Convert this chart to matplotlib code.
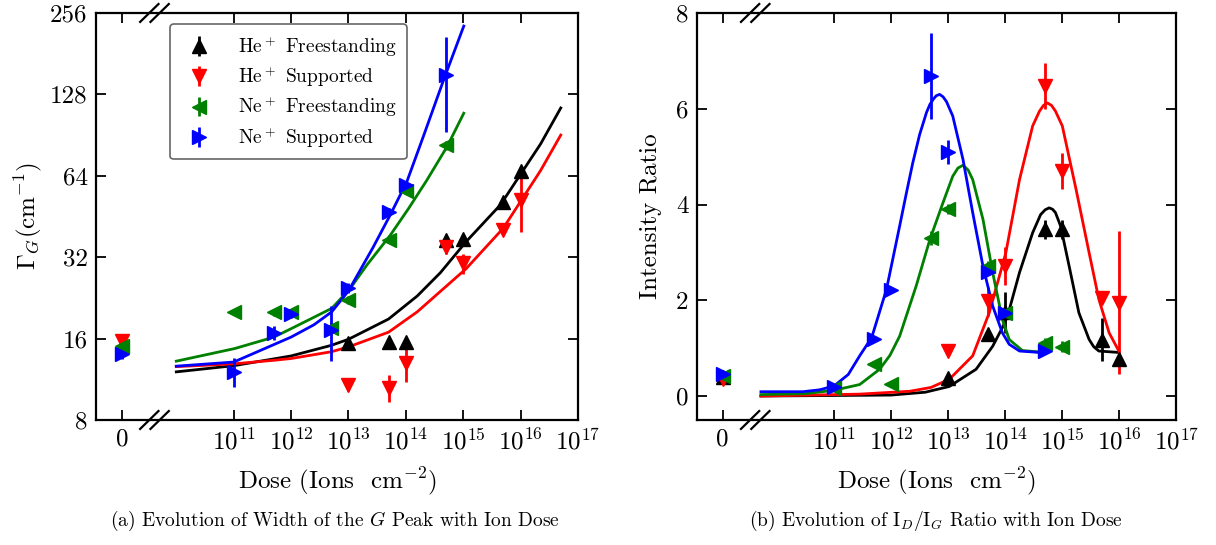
import matplotlib
matplotlib.use('Agg')
import matplotlib.pyplot as plt  # noqa: E402
import matplotlib.transforms as mtransforms  # noqa: E402
import numpy as np  # noqa: E402

plt.rcParams['font.family'] = 'cmr10'
plt.rcParams['mathtext.fontset'] = 'cm'
plt.rcParams['axes.unicode_minus'] = False
plt.rcParams['axes.formatter.use_mathtext'] = True

# ------------------------------------------------------------------
# Data (dose in ions/cm^2, 0 = pristine)
# ------------------------------------------------------------------
he_dose = [0, 1e13, 5e13, 1e14, 5e14, 1e15, 5e15, 1e16]
ne_dose = [0, 1e11, 5e11, 1e12, 5e12, 1e13, 5e13, 1e14, 5e14]
ne_dose_b = [0, 1e11, 5e11, 1e12, 5e12, 1e13, 5e13, 1e14, 5e14, 1e15]

# (a) G peak width (cm^-1)
w_he_free = [15.0, 15.4, 15.5, 15.5, 37.0, 37.5, 51.4, 66.4]
w_he_free_err = [0.5, 0.6, 0.6, 0.6, 1.5, 1.5, 1.5, 2.0]
w_he_sup = [15.7, 10.8, 10.5, 13.0, 35.0, 30.4, 40.4, 52.0]
w_he_sup_err = [0.5, 0.6, 1.2, 1.9, 2.0, 2.6, 1.5, 12.5]
w_ne_free = [15.0, 20.1, 20.0, 20.0, 17.5, 22.2, 37.0, 56.2, 83.0]
w_ne_free_err = [0.5, 0.5, 0.6, 0.6, 0.8, 0.8, 1.0, 1.5, 3.0]
w_ne_sup = [14.0, 12.05, 16.8, 19.7, 17.2, 24.6, 47.2, 59.2, 151.0]
w_ne_sup_err = [0.5, 1.5, 1.0, 0.6, 4.0, 1.0, 1.5, 1.5, 58.0]

# (a) fitted curves (log10 dose, width)
fa_he_free_x = [10.0, 11.0, 12.0, 12.7, 13.0, 13.7, 14.2, 14.6, 15.05, 15.65, 16.35, 16.7]
fa_he_free_y = [12.05, 12.7, 13.8, 15.1, 15.9, 18.9, 23.0, 28.0, 36.5, 50.0, 84.0, 114.0]
fa_he_sup_x = [10.0, 11.0, 11.7, 12.0, 12.7, 13.0, 13.7, 14.2, 15.05, 15.7, 16.35, 16.7]
fa_he_sup_y = [12.6, 12.9, 13.3, 13.5, 14.3, 14.9, 16.9, 20.1, 29.0, 41.0, 67.0, 90.5]
fa_ne_free_x = [10.0, 11.02, 11.7, 12.0, 12.71, 13.03, 13.32, 13.73, 14.05, 14.37, 14.72, 15.01]
fa_ne_free_y = [13.2, 14.7, 16.2, 17.4, 20.7, 24.5, 29.9, 38.6, 48.5, 61.8, 82.1, 109.0]
fa_ne_sup_x = [10.0, 11.0, 11.7, 12.0, 12.4, 12.71, 13.0, 13.43, 13.73, 14.02, 14.31, 14.66, 15.01]
fa_ne_sup_y = [12.65, 13.1, 15.2, 16.2, 18.0, 20.1, 24.0, 34.8, 45.9, 61.0, 90.0, 145.0, 229.0]

# (b) I_D/I_G intensity ratio
r_he_free = [0.40, 0.38, 1.29, 1.75, 3.48, 3.48, 1.18, 0.77]
r_he_free_err = [0.05, 0.05, 0.10, 0.43, 0.20, 0.20, 0.45, 0.05]
r_he_sup = [0.35, 0.94, 1.98, 2.71, 6.47, 4.70, 2.05, 1.95]
r_he_sup_err = [0.10, 0.05, 0.30, 0.40, 0.48, 0.37, 0.05, 1.50]
r_ne_free = [0.42, 0.17, 0.66, 0.26, 3.30, 3.91, 2.71, 1.74, 1.11, 1.03]
r_ne_free_err = [0.05, 0.05, 0.05, 0.05, 0.15, 0.10, 0.10, 0.10, 0.10, 0.12]
r_ne_sup = [0.45, 0.18, 1.20, 2.21, 6.69, 5.10, 2.58, 1.74, 0.94]
r_ne_sup_err = [0.05, 0.05, 0.05, 0.05, 0.90, 0.25, 0.05, 0.05, 0.05]

# (b) fitted curves (log10 dose, ratio)
fb_he_free_x = [9.72, 12.0, 12.6, 13.02, 13.49, 13.78, 13.95, 14.04, 14.25, 14.48, 14.62, 14.70,
                14.77, 14.83, 14.88, 14.97, 15.12, 15.29, 15.47, 15.55, 15.64, 15.99]
fb_he_free_y = [0.0, 0.02, 0.08, 0.20, 0.56, 1.04, 1.43, 1.67, 2.58, 3.41, 3.79, 3.89,
                3.93, 3.90, 3.83, 3.55, 2.71, 1.74, 1.18, 1.03, 0.94, 0.91]
fb_he_sup_x = [9.72, 11.45, 12.33, 12.7, 13.02, 13.43, 13.72, 14.01, 14.25, 14.48, 14.60, 14.67,
               14.74, 14.81, 14.88, 15.0, 15.24, 15.47, 15.64, 15.82, 15.99]
fb_he_sup_y = [0.0, 0.04, 0.10, 0.18, 0.35, 0.84, 1.74, 2.99, 4.52, 5.64, 5.95, 6.07,
               6.12, 6.07, 5.95, 5.64, 4.32, 2.99, 2.02, 1.32, 0.94]
fb_ne_free_x = [9.72, 10.5, 11.0, 11.45, 11.80, 11.98, 12.15, 12.44, 12.68, 12.91, 13.08, 13.17,
                13.26, 13.35, 13.43, 13.61, 13.78, 13.95, 14.07, 14.3, 14.6]
fb_ne_free_y = [0.03, 0.05, 0.12, 0.24, 0.56, 0.85, 1.25, 2.30, 3.27, 4.04, 4.59, 4.76,
                4.82, 4.72, 4.52, 3.69, 2.58, 1.60, 1.18, 0.95, 0.92]
fb_ne_sup_x = [9.72, 10.45, 10.75, 11.0, 11.25, 11.45, 11.66, 11.92, 12.15, 12.27, 12.38, 12.50,
               12.62, 12.68, 12.74, 12.79, 12.85, 12.91, 12.97, 13.08, 13.26, 13.43, 13.61,
               13.78, 13.95, 14.07, 14.25, 14.60]
fb_ne_sup_y = [0.09, 0.09, 0.13, 0.21, 0.45, 0.84, 1.22, 2.23, 3.55, 4.25, 4.87, 5.46,
               5.92, 6.09, 6.20, 6.27, 6.30, 6.25, 6.15, 5.85, 4.94, 3.83, 2.71,
               1.88, 1.32, 1.08, 0.94, 0.91]

labels = [r'He$^+$ Freestanding', r'He$^+$ Supported',
          r'Ne$^+$ Freestanding', r'Ne$^+$ Supported']
colors = ['black', 'red', 'green', 'blue']
markers = ['^', 'v', '<', '>']

ZERO_POS = 9.05   # where "0" dose sits on the log axis
BREAK_POS = 9.62
XLIM = (8.6, 17.0)


def to_x(doses):
    return np.array([ZERO_POS if d == 0 else np.log10(d) for d in doses])


def draw_break(ax):
    trans = mtransforms.blended_transform_factory(ax.transData, ax.transAxes)
    for dx in (-0.09, 0.09):
        for y in (0.0, 1.0):
            ax.plot([BREAK_POS + dx - 0.16, BREAK_POS + dx + 0.16], [y - 0.022, y + 0.022],
                    transform=trans, color='k', lw=1.6, clip_on=False, zorder=10)


def style_axes(ax):
    ax.set_xlim(*XLIM)
    ticks = [ZERO_POS] + list(range(11, 18))
    ax.set_xticks(ticks)
    ax.set_xticklabels(['0'] + [r'$10^{%d}$' % e for e in range(11, 18)])
    ax.tick_params(direction='in', which='both', top=True, right=True,
                   length=7, width=1.3, labelsize=18, pad=6)
    ax.minorticks_off()
    for s in ax.spines.values():
        s.set_linewidth(1.6)
    ax.set_xlabel(r'Dose (Ions  cm$^{-2}$)', fontsize=18, labelpad=8)
    draw_break(ax)


fig = plt.figure(figsize=(12.16, 5.45), dpi=100)
ax1 = fig.add_axes([0.0789, 0.2294, 0.3964, 0.7468])
ax2 = fig.add_axes([0.5732, 0.2294, 0.3943, 0.7468])

# ---------------- (a) width ----------------
a_data = [(he_dose, w_he_free, w_he_free_err), (he_dose, w_he_sup, w_he_sup_err),
          (ne_dose, w_ne_free, w_ne_free_err), (ne_dose, w_ne_sup, w_ne_sup_err)]
a_fits = [(fa_he_free_x, fa_he_free_y), (fa_he_sup_x, fa_he_sup_y),
          (fa_ne_free_x, fa_ne_free_y), (fa_ne_sup_x, fa_ne_sup_y)]
for (d, y, e), (fx, fy), c, m, lab in zip(a_data, a_fits, colors, markers, labels):
    ax1.plot(fx, fy, color=c, lw=2)
    ax1.errorbar(to_x(d), y, yerr=e, fmt=m, color=c, ms=10, elinewidth=2,
                 capsize=0, label=lab)
ax1.set_yscale('log', base=2)
ax1.set_ylim(8, 256)
yt = [8, 16, 32, 64, 128, 256]
ax1.set_yticks(yt)
ax1.set_yticklabels([str(v) for v in yt])
style_axes(ax1)
ax1.set_ylabel(r'$\Gamma_G(\mathrm{cm}^{-1})$', fontsize=18, labelpad=4)
leg = ax1.legend(loc='upper left', bbox_to_anchor=(0.154, 0.972), borderaxespad=0,
                 fontsize=14, frameon=True, edgecolor='0.25', handlelength=2.0,
                 labelspacing=0.3, handletextpad=1.0, borderpad=0.5)
leg.get_frame().set_linewidth(1.2)

# ---------------- (b) ratio ----------------
b_data = [(he_dose, r_he_free, r_he_free_err), (he_dose, r_he_sup, r_he_sup_err),
          (ne_dose_b, r_ne_free, r_ne_free_err), (ne_dose, r_ne_sup, r_ne_sup_err)]
b_fits = [(fb_he_free_x, fb_he_free_y), (fb_he_sup_x, fb_he_sup_y),
          (fb_ne_free_x, fb_ne_free_y), (fb_ne_sup_x, fb_ne_sup_y)]
for (d, y, e), (fx, fy), c, m in zip(b_data, b_fits, colors, markers):
    ax2.plot(fx, fy, color=c, lw=2)
    ax2.errorbar(to_x(d), y, yerr=e, fmt=m, color=c, ms=10, elinewidth=2, capsize=0)
ax2.set_ylim(-0.5, 8)
ax2.set_yticks([0, 2, 4, 6, 8])
ax2.set_yticklabels(['0', '2', '4', '6', '8'])
style_axes(ax2)
ax2.set_ylabel('Intensity Ratio', fontsize=18, labelpad=10)

fig.text(0.2757, 0.045, r'(a) Evolution of Width of the $G$ Peak with Ion Dose',
         ha='center', va='center', fontsize=14)
fig.text(0.7697, 0.045, r'(b) Evolution of I$_D$/I$_G$ Ratio with Ion Dose',
         ha='center', va='center', fontsize=14)

fig.savefig('out.png', dpi=100)
